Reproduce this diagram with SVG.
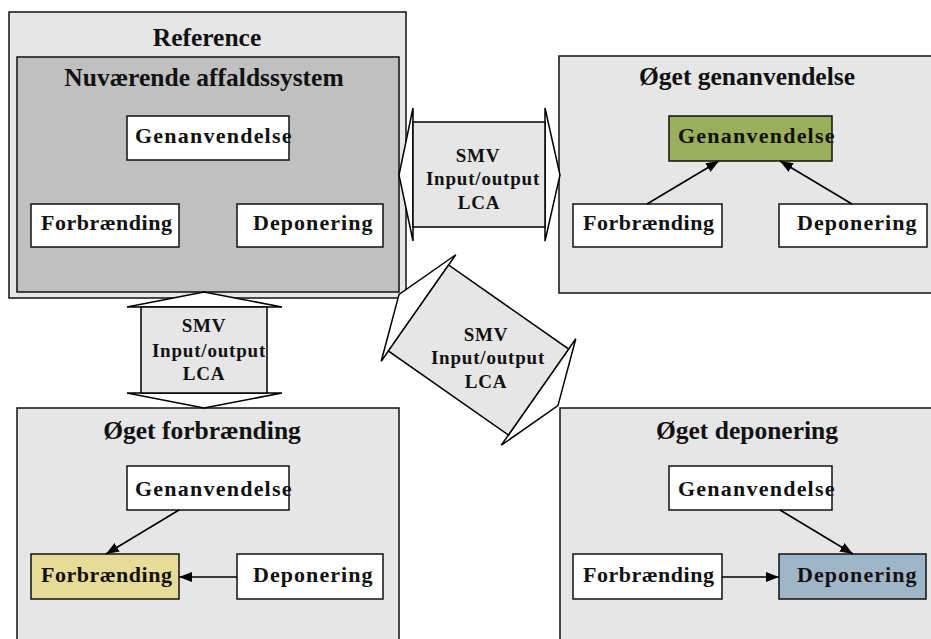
<svg xmlns="http://www.w3.org/2000/svg" width="931" height="639" viewBox="0 0 931 639">
  <defs>
    <marker id="arrow" viewBox="0 0 13 10" refX="13" refY="5" markerWidth="13" markerHeight="10" markerUnits="userSpaceOnUse" orient="auto">
      <path d="M0,0 L13,5 L0,10 z" fill="#000"/>
    </marker>
    <style>
      .panel { fill: #e6e6e6; stroke: #111; stroke-width: 1.5; }
      .inner { fill: #c0c0c0; stroke: #111; stroke-width: 1.5; }
      .box { fill: #fff; stroke: #111; stroke-width: 1.5; }
      .green { fill: #9bae5c; }
      .yellow { fill: #e6dc98; }
      .blue { fill: #9fb5c8; }
      .title { font-family: "Liberation Serif", "Times New Roman", serif; font-weight: bold; font-size: 25.5px; fill: #111; text-anchor: middle; }
      .label { font-family: "Liberation Serif", "Times New Roman", serif; font-weight: bold; font-size: 22px; letter-spacing: 0.5px; fill: #111; }
      .flow { font-family: "Liberation Serif", "Times New Roman", serif; font-weight: bold; font-size: 19px; letter-spacing: 0.8px; fill: #111; text-anchor: middle; }
      .body { fill: #e6e6e6; stroke: #000; stroke-width: 1.5; }
      .head { fill: #fff; stroke: #000; stroke-width: 1.5; stroke-linejoin: miter; }
      .link { stroke: #000; stroke-width: 1.6; fill: none; marker-end: url(#arrow); }
    </style>
  </defs>

  <rect width="931" height="639" fill="#fff"/>

  <!-- Reference scenario: current waste system -->
  <g id="reference">
    <rect class="panel" x="9" y="12" width="397" height="286"/>
    <text class="title" x="207" y="46">Reference</text>
    <rect class="inner" x="17" y="57" width="382" height="235"/>
    <text class="title" x="204" y="86">Nuværende affaldssystem</text>
    <g id="ref-genanvendelse">
      <rect class="box" x="127" y="116" width="162" height="44"/>
      <text class="label" x="135" y="143" textLength="157" lengthAdjust="spacing">Genanvendelse</text>
    </g>
    <g id="ref-forbraending">
      <rect class="box" x="31" y="204" width="148" height="43"/>
      <text class="label" x="41" y="230">Forbrænding</text>
    </g>
    <g id="ref-deponering">
      <rect class="box" x="237" y="204" width="146" height="43"/>
      <text class="label" x="253" y="230" textLength="120" lengthAdjust="spacing">Deponering</text>
    </g>
  </g>

  <!-- Scenario: more recycling -->
  <g id="oeget-genanvendelse">
    <rect class="panel" x="559" y="56" width="380" height="237"/>
    <text class="title" x="747" y="85">Øget genanvendelse</text>
    <g id="og-genanvendelse">
      <rect class="box green" x="669" y="116" width="163" height="45"/>
      <text class="label" x="678" y="143" textLength="157" lengthAdjust="spacing">Genanvendelse</text>
    </g>
    <g id="og-forbraending">
      <rect class="box" x="573" y="204" width="149" height="43"/>
      <text class="label" x="583" y="230">Forbrænding</text>
    </g>
    <g id="og-deponering">
      <rect class="box" x="779" y="204" width="148" height="43"/>
      <text class="label" x="797" y="230" textLength="120" lengthAdjust="spacing">Deponering</text>
    </g>
  </g>

  <!-- Scenario: more incineration -->
  <g id="oeget-forbraending">
    <rect class="panel" x="17" y="408" width="382" height="240"/>
    <text class="title" x="202" y="439">Øget forbrænding</text>
    <g id="of-genanvendelse">
      <rect class="box" x="127" y="466" width="162" height="44"/>
      <text class="label" x="135" y="496" textLength="157" lengthAdjust="spacing">Genanvendelse</text>
    </g>
    <g id="of-forbraending">
      <rect class="box yellow" x="31" y="554" width="148" height="45"/>
      <text class="label" x="41" y="582">Forbrænding</text>
    </g>
    <g id="of-deponering">
      <rect class="box" x="237" y="554" width="146" height="45"/>
      <text class="label" x="253" y="582" textLength="120" lengthAdjust="spacing">Deponering</text>
    </g>
  </g>

  <!-- Scenario: more landfill -->
  <g id="oeget-deponering">
    <rect class="panel" x="560" y="408" width="380" height="240"/>
    <text class="title" x="747" y="439">Øget deponering</text>
    <g id="od-genanvendelse">
      <rect class="box" x="669" y="466" width="163" height="44"/>
      <text class="label" x="678" y="496" textLength="157" lengthAdjust="spacing">Genanvendelse</text>
    </g>
    <g id="od-forbraending">
      <rect class="box" x="573" y="554" width="149" height="45"/>
      <text class="label" x="583" y="582">Forbrænding</text>
    </g>
    <g id="od-deponering">
      <rect class="box blue" x="779" y="554" width="147" height="45"/>
      <text class="label" x="797" y="582" textLength="120" lengthAdjust="spacing">Deponering</text>
    </g>
  </g>

  <!-- Double arrows: SMV / Input-output / LCA comparisons -->
  <g id="compare-genanvendelse">
    <polygon class="head" points="413,108 399,175 413,241"/>
    <polygon class="head" points="545,108 560,175 545,241"/>
    <rect class="body" x="413" y="122" width="132" height="105"/>
    <text class="flow" x="478" y="162">SMV</text>
    <text class="flow" x="483" y="185">Input/output</text>
    <text class="flow" x="479" y="209">LCA</text>
  </g>

  <g id="compare-forbraending">
    <polygon class="head" points="127,307 204,292 282,307"/>
    <polygon class="head" points="127,393 204,408 282,393"/>
    <rect class="body" x="141" y="307" width="126" height="86"/>
    <text class="flow" x="204" y="332">SMV</text>
    <text class="flow" x="209" y="357">Input/output</text>
    <text class="flow" x="204" y="380">LCA</text>
  </g>

  <g id="compare-deponering">
    <g transform="translate(478.5,350) rotate(35)">
      <polygon class="head" points="-73.25,-65 -97,0 -73.25,65"/>
      <polygon class="head" points="73.25,-65 97,0 73.25,65"/>
      <rect class="body" x="-73.25" y="-52.5" width="146.5" height="105"/>
    </g>
    <text class="flow" x="486" y="341">SMV</text>
    <text class="flow" x="488" y="364">Input/output</text>
    <text class="flow" x="486" y="388">LCA</text>
  </g>

  <!-- Material flow connectors inside the scenarios -->
  <g id="connectors">
    <line class="link" x1="647" y1="204" x2="719" y2="161"/>
    <line class="link" x1="852" y1="204" x2="780" y2="161"/>
    <line class="link" x1="179" y1="510" x2="106" y2="554"/>
    <line class="link" x1="237" y1="577" x2="179" y2="577"/>
    <line class="link" x1="780" y1="510" x2="853" y2="554"/>
    <line class="link" x1="722" y1="577" x2="779" y2="577"/>
  </g>
</svg>
